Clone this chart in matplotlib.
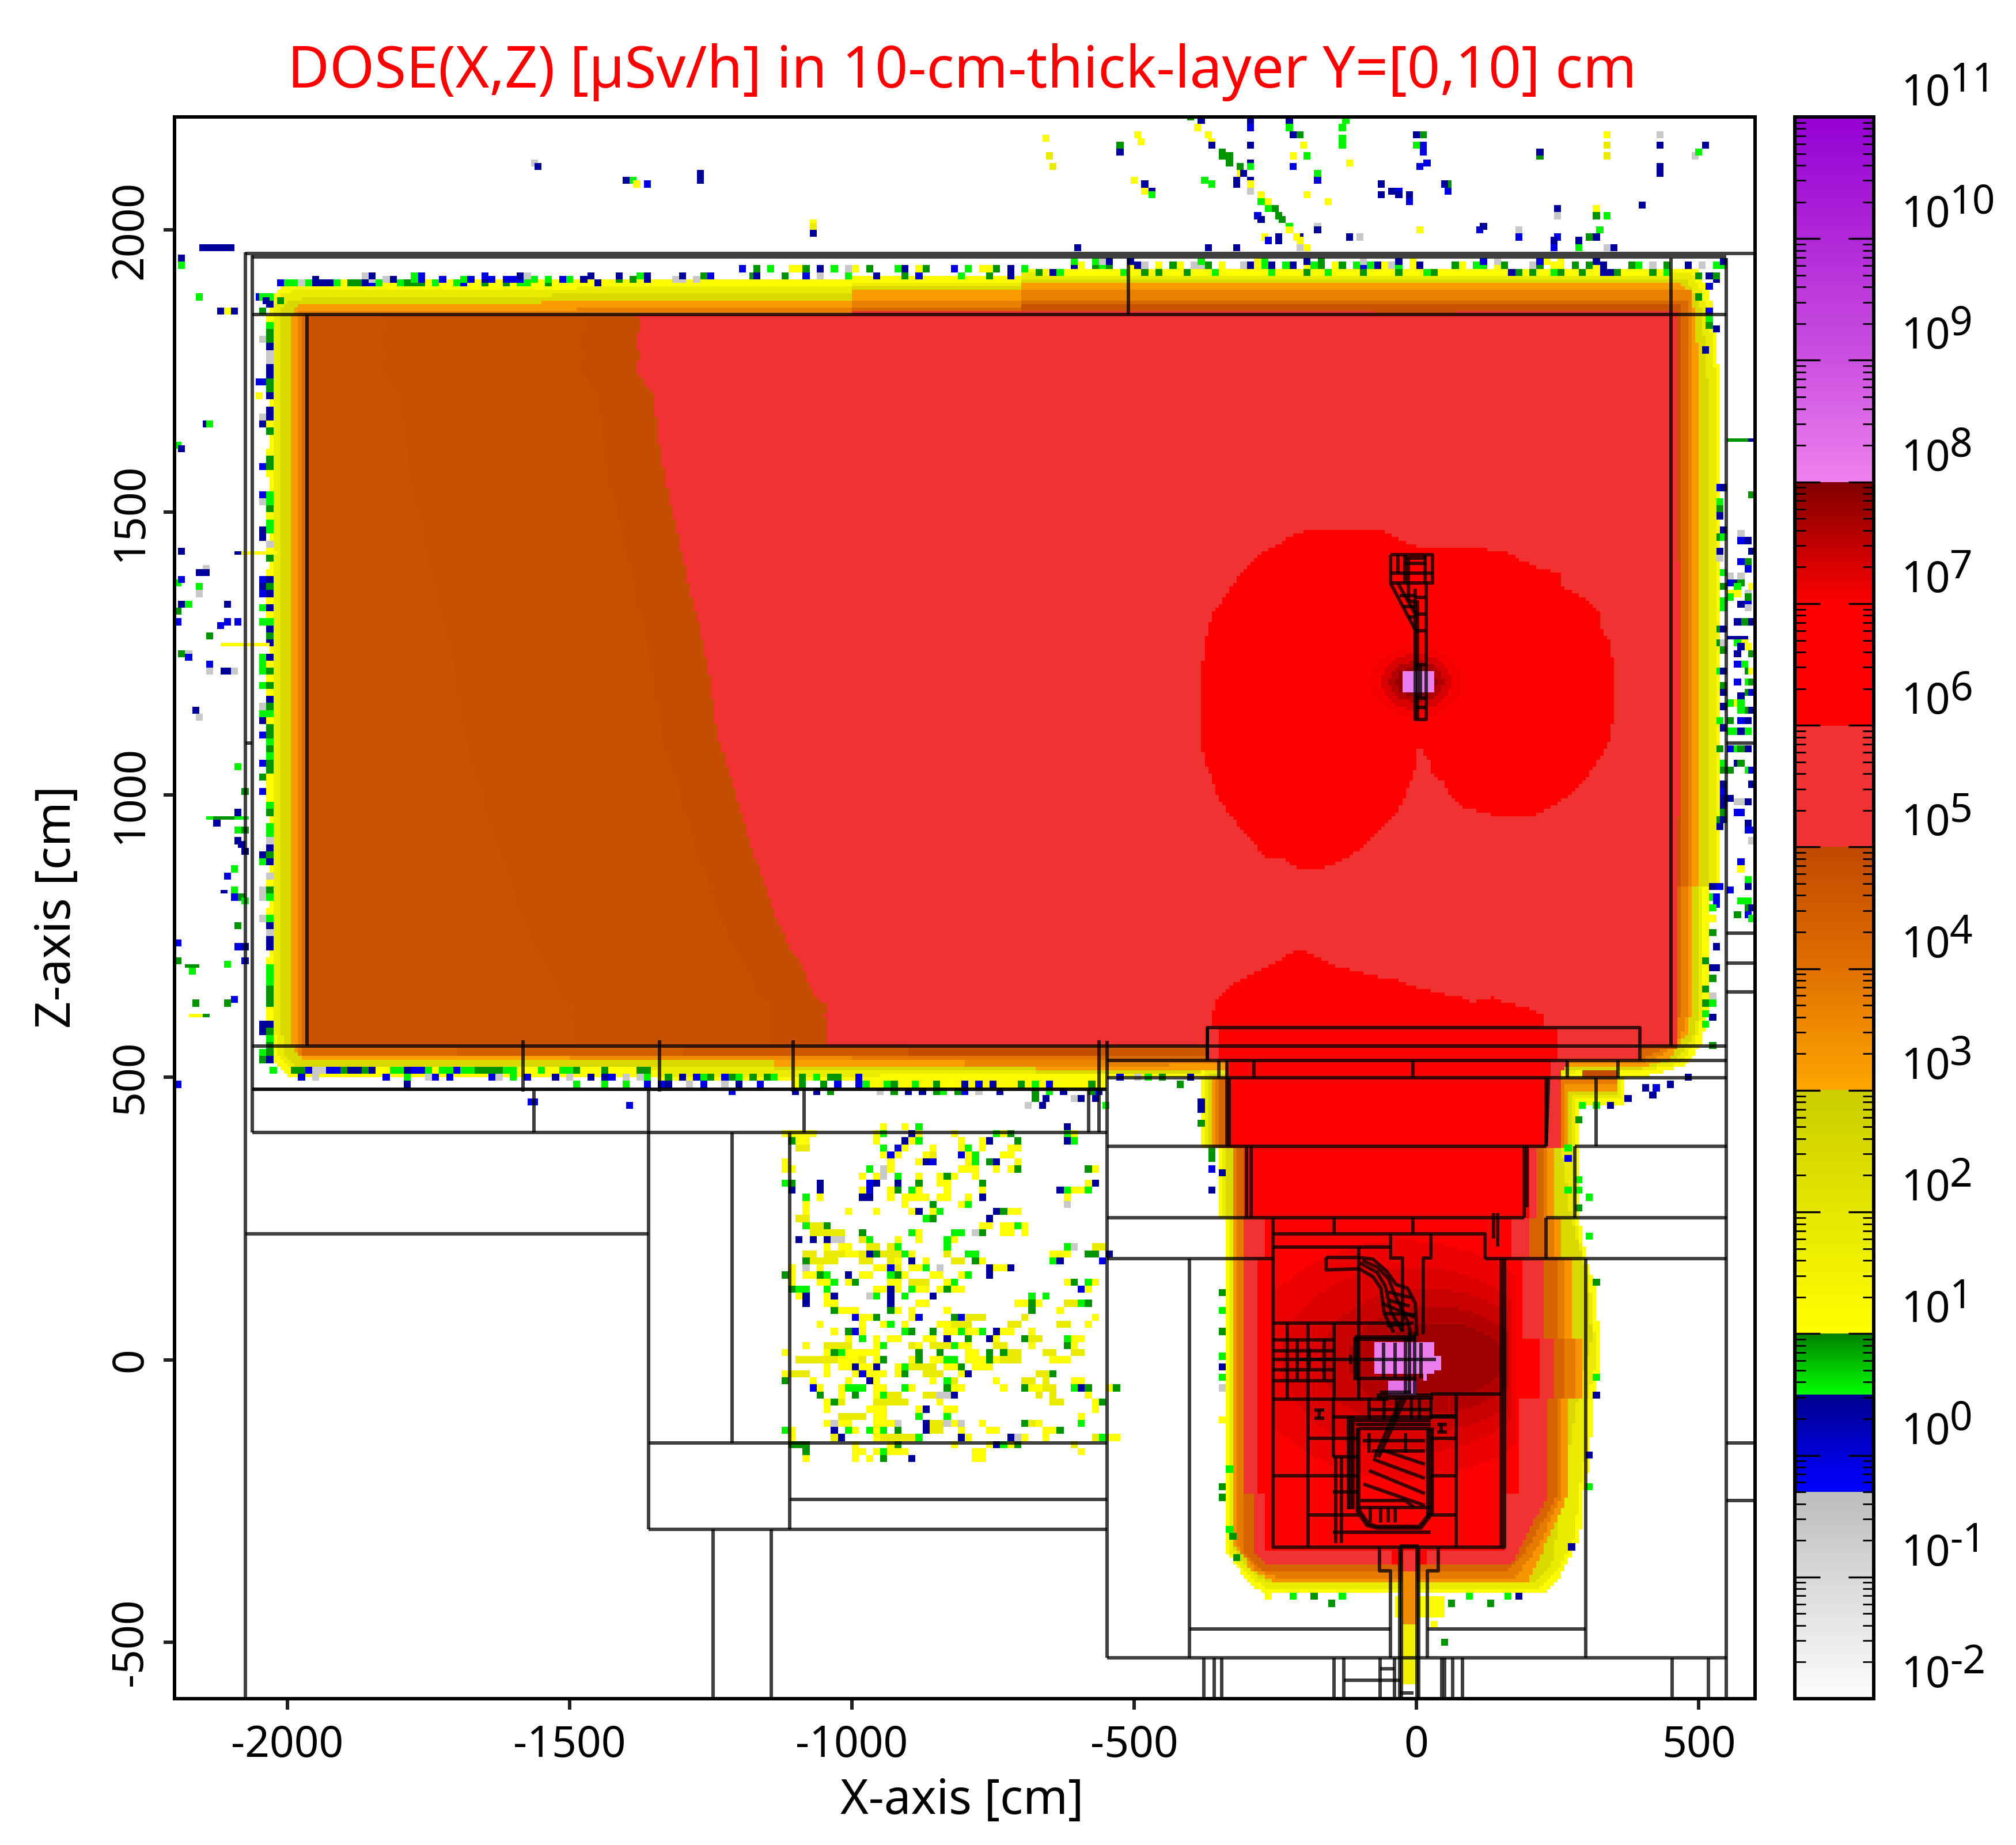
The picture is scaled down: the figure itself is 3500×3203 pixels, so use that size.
#!/usr/bin/env python
"""Dose map DOSE(X,Z) with the geometry outline, read off the picture by hand."""

import matplotlib

matplotlib.use("Agg")
import matplotlib.pyplot as plt  # noqa: E402
import numpy as np  # noqa: E402
from matplotlib.collections import LineCollection  # noqa: E402
from matplotlib.colors import LinearSegmentedColormap, LogNorm  # noqa: E402
from matplotlib.path import Path  # noqa: E402
from matplotlib.ticker import LogLocator, NullFormatter  # noqa: E402

plt.rcParams["font.family"] = ["Noto Sans", "DejaVu Sans"]
plt.rcParams["axes.unicode_minus"] = False

CELL = 6.25
XLIM = (-2200, 600)
ZLIM = (-600, 2200)
X_TICKS = [-2000, -1500, -1000, -500, 0, 500]
Z_TICKS = [-500, 0, 500, 1000, 1500, 2000]
DECADES = list(range(-2, 12))

# colour bar stops: log10(dose), colour
CMAP_STOPS = [
    (-2, "#fdfdfd"), (-1, "#d8d8d8"), (-0.3, "#bcbcbc"),
    (-0.3, "#0000ff"), (0, "#0000d8"), (0.5, "#00008c"),
    (0.5, "#00ff00"), (1, "#008000"),
    (1, "#ffff00"), (2, "#e6e600"), (3, "#cccc00"),
    (3, "#ffa500"), (4, "#e07000"), (5, "#c04800"),
    (5, "#f03232"), (6, "#f03232"),
    (6, "#ff0000"), (7, "#ff0000"), (8, "#800000"),
    (8, "#ee82ee"), (9, "#cc50e0"), (10, "#b028d8"), (11, "#9400d3"),
]

# log10(dose) of the speckle letters used below
CODES = {"y": 1.05, "e": 1.8, "d": 2.5, "g": 0.55, "G": 0.92, "b": -0.1, "n": 0.4, "w": -0.6}

# --- dose zones, outer to inner (X, Z in cm) ---
ROOM_Y = [(-2032, 600), (-2032, 1875), (-2015, 1895), (-2000, 1904), (-1490, 1904), (-1490, 1910), (-1000, 1910),
          (-1000, 1919), (-700, 1919), (-700, 1929), (500, 1929), (521, 1880), (530, 1820), (539, 1700), (539, 838),
          (519, 838), (519, 620), (505, 560), (476, 520), (400, 500), (-548, 499), (-548, 482), (-979, 482), (-979, 495),
          (-1344, 495), (-1344, 503), (-2000, 503), (-2025, 530)]
ROOM_E = [(-2026, 600), (-2026, 1865), (-2010, 1885), (-1995, 1891), (-1490, 1891), (-1490, 1897), (-1000, 1897),
          (-1000, 1909), (-700, 1909), (-700, 1922), (490, 1922), (512, 1870), (522, 1820), (533, 1700), (533, 838),
          (508, 838), (508, 620), (495, 565), (468, 525), (400, 510), (-548, 505), (-979, 503), (-1344, 503), (-1344, 514),
          (-1990, 514), (-2015, 535)]
ROOM_D = [(-2013, 600), (-2013, 1855), (-2000, 1872), (-1985, 1878), (-1490, 1885), (-1000, 1885), (-1000, 1897),
          (-700, 1897), (-700, 1910), (480, 1910), (505, 1860), (519, 1700), (519, 838), (501, 838), (501, 620), (490, 570),
          (460, 530), (400, 515), (-548, 505), (-673, 505), (-673, 514), (-1140, 514), (-1140, 521), (-1985, 521), (-2005, 540)]
ROOM_O = [(-1995, 600), (-1995, 1845), (-1985, 1862), (-1975, 1871), (-1552, 1871), (-1552, 1878), (-1000, 1878),
          (-1000, 1891), (-700, 1891), (-700, 1904), (470, 1904), (495, 1850), (501, 1700), (501, 838), (488, 838), (488, 620),
          (478, 575), (450, 535), (400, 518), (-673, 514), (-673, 521), (-1140, 521), (-1140, 533), (-1975, 533), (-1990, 550)]
ROOM_M = [(-1981, 600), (-1981, 1859), (-1490, 1859), (-1490, 1865), (-1000, 1865), (-1000, 1878), (-700, 1878),
          (-700, 1891), (488, 1891), (488, 838), (481, 838), (481, 620), (470, 575), (440, 540), (400, 525), (-673, 521),
          (-673, 527), (-1140, 527), (-1140, 536), (-1981, 536)]
ROOM_B = [(-1975, 545), (-1975, 1853), (-1000, 1853), (-1000, 1865), (-700, 1865), (-700, 1878), (481, 1878), (481, 838),
          (469, 838), (469, 620), (460, 580), (430, 545), (400, 533), (-1000, 533), (-1975, 539)]
ROOM_C = [(-1968, 552), (-1968, 1853), (-1000, 1853), (-1000, 1859), (-700, 1859), (-700, 1871), (469, 1871), (469, 838),
          (463, 838), (463, 552)]
ROOM_LEVELS = [1.1, 1.8, 2.5, 3.2, 3.7, 4.2, 4.76]

# the 1e5 contour through the room, top to bottom
CONTOUR_1E5 = [(-1382, 1853), (-1375, 1835), (-1382, 1800), (-1375, 1780), (-1382, 1755), (-1375, 1740), (-1362, 1720),
               (-1349, 1705), (-1346, 1655), (-1328, 1542), (-1307, 1451), (-1292, 1383), (-1269, 1292), (-1251, 1201),
               (-1239, 1110), (-1212, 1019), (-1178, 905), (-1144, 814), (-1133, 776), (-1120, 755), (-1113, 731),
               (-1100, 718), (-1094, 711), (-1081, 680), (-1075, 660), (-1062, 641), (-1048, 630), (-1043, 623),
               (-1048, 609), (-1043, 591), (-1043, 555)]
ROOM_F_RIGHT = [(463, 555), (463, 961), (469, 961), (469, 1413), (463, 1413), (463, 1859), (-1000, 1859), (-1000, 1853)]
STRIP_SHIFTS = [450, 250, 100]
STRIP_LEVELS = [4.79, 4.83, 4.88]
STRIP_LEFT = -1960
# x0, x1, z0, z1, log10(dose)
ROOM_PATCHES = [
    (-73, 66, 1853, 1859, 4.9),
    (-1975, -1700, 539, 555, 4.2), (-1700, -1300, 539, 555, 4.4), (-1300, -900, 539, 555, 4.6),
    (-900, -560, 539, 555, 4.9), (-560, -370, 539, 555, 4.7),
    (-1975, -1500, 533, 539, 3.1), (-1500, -1000, 533, 539, 3.5), (-1000, -560, 533, 539, 3.9),
    (-1140, -800, 521, 533, 3.15), (-800, -560, 521, 533, 3.6),
]

LOBES_1E6 = [(-2, 1080), (-2, 1050), (-9, 1024), (-21, 999), (-28, 979), (-40, 960), (-60, 942), (-78, 922), (-99, 903),
             (-131, 885), (-162, 871), (-213, 871), (-234, 885), (-270, 890), (-283, 910), (-303, 928), (-321, 954),
             (-340, 979), (-354, 999), (-360, 1024), (-373, 1050), (-379, 1081), (-379, 1234), (-373, 1278), (-360, 1324),
             (-340, 1349), (-327, 1368), (-309, 1394), (-289, 1413), (-270, 1432), (-232, 1451), (-213, 1464), (-181, 1469),
             (-60, 1469), (-28, 1451), (10, 1438), (80, 1438), (157, 1432), (188, 1413), (221, 1400), (253, 1393), (259, 1368),
             (297, 1349), (323, 1324), (329, 1292), (342, 1272), (348, 1240), (348, 1133), (342, 1094), (329, 1069), (310, 1044),
             (297, 1024), (271, 999), (240, 979), (202, 961), (151, 961), (99, 974), (80, 979), (61, 999), (49, 1024), (29, 1030),
             (23, 1062), (10, 1069), (10, 1081)]

BUNKER_Y = [(-379, 510), (-379, 378), (-353, 378), (-353, 251), (-340, 251), (-340, -332), (-322, -361), (-300, -395),
            (-270, -412), (226, -412), (257, -382), (289, -315), (296, -239), (308, -171), (312, -70), (328, -2), (316, 133),
            (300, 179), (289, 251), (289, 450), (367, 450), (367, 500)]
BUNKER_E = [(-372, 510), (-372, 378), (-346, 378), (-346, 251), (-334, 251), (-334, -332), (-316, -360), (-295, -385),
            (-265, -404), (218, -404), (250, -375), (280, -315), (288, -239), (298, -171), (302, -70), (320, -2), (308, 133),
            (296, 179), (281, 251), (281, 460), (360, 460), (360, 500)]
BUNKER_D = [(-366, 505), (-366, 378), (-340, 378), (-340, 251), (-328, 251), (-328, -332), (-310, -355), (-290, -378),
            (-260, -396), (211, -396), (242, -357), (257, -239), (285, -70), (312, 40), (296, 179), (273, 251), (257, 378),
            (277, 378), (277, 470), (359, 471), (359, 499)]
BUNKER_O = [(-360, 499), (-360, 378), (-328, 378), (-328, 251), (-322, 251), (-322, -332), (-309, -340), (-295, -370),
            (-255, -391), (199, -391), (226, -332), (269, -239), (269, -70), (293, -70), (293, 40), (277, 40), (277, 179),
            (257, 179), (257, 251), (242, 251), (242, 378), (269, 378), (269, 475), (359, 475), (359, 499)]
BUNKER_M = [(-356, 499), (-356, 378), (-324, 378), (-324, 251), (-316, 251), (-316, -332), (-307, -345), (-285, -372),
            (-250, -385), (175, -385), (215, -332), (258, -239), (258, -70), (280, -70), (280, 40), (262, 40), (262, 179),
            (245, 179), (245, 251), (232, 251), (232, 378), (263, 378), (263, 490), (357, 490), (357, 499)]
BUNKER_B = [(-352, 499), (-352, 378), (-320, 378), (-320, 251), (-309, 251), (-309, -332), (-300, -350), (-270, -378),
            (156, -378), (199, -332), (250, -239), (250, -70), (265, -70), (265, 40), (250, 40), (250, 179), (234, 179),
            (234, 251), (222, 251), (222, 378), (257, 378), (257, 499)]
BUNKER_F = [(-340, 499), (-340, 378), (-305, 378), (-305, -239), (-289, -239), (-289, -340), (-270, -361), (168, -361),
            (183, -332), (234, -239), (234, -70), (242, -70), (242, 40), (222, 40), (222, 179), (203, 179), (203, 251),
            (211, 251), (211, 378), (254, 378), (254, 499), (270, 530), (396, 530), (396, 555), (-370, 555), (-370, 530),
            (-340, 530)]
BUNKER_R = [(-360, 589), (-360, 619), (-353, 640), (-336, 657), (-323, 666), (-255, 700), (-210, 728), (-141, 696),
            (-80, 680), (-39, 674), (-8, 661), (23, 653), (82, 640), (101, 632), (136, 642), (152, 632), (199, 623), (226, 610),
            (226, 589), (251, 585), (251, 530), (238, 530), (234, 499), (234, 378), (199, 378), (199, 251), (168, 251),
            (168, 179), (187, 179), (187, 40), (218, 40), (218, -70), (183, -70), (183, -239), (156, -239), (156, -340),
            (19, -340), (19, -361), (-46, -361), (-46, -340), (-270, -340), (-270, -239), (-283, -239), (-283, 179),
            (-270, 179), (-270, 251), (-297, 251), (-297, 378), (-332, 378), (-332, 530), (-353, 530), (-353, 585)]
BUNKER_LEVELS = [1.1, 1.8, 2.5, 3.3, 3.8, 4.3, 5.5, 6.5]
BUNKER_PATCHES = [
    (293, 355, 499, 513, 4.9),
    (-39, 47, -459, -416, 1.1), (-24, 0, -467, -374, 3.5), (-24, 0, -577, -467, 1.6), (-24, 0, -374, -340, 5.5),
]

# cx, cz, rx, rz, log10(dose), smallest X, largest X: the warm spots round the two beam spots
HOT_SPOTS = [
    (-20, 0, 280, 210, 7.15, -254, 172), (-10, 0, 230, 165, 7.28, -254, 168), (20, 0, 190, 125, 7.42, -254, 164),
    (30, 0, 150, 95, 7.58, -254, 160), (40, 0, 115, 65, 7.78, -254, 155),
    (0, 1200, 85, 65, 7.05, -90, 90), (0, 1200, 62, 50, 7.3, -90, 90), (0, 1200, 48, 36, 7.6, -90, 90),
    (0, 1200, 36, 26, 7.85, -90, 90),
]
PINK_PATCHES = [
    (-73, 29, -28, 30, 8.1), (29, 42, -21, 9, 8.1), (10, 20, -40, -28, 8.1), (-50, -3, -60, -40, 8.3),
    (-22, 29, 1184, 1221, 8.1), (-27, -22, 1190, 1210, 8.1),
]

# --- scattered cells, as letter strings along a row or column ---
BOX_X0 = -1162
BOX_Z0 = 412
BOX_ROWS = [
    ".................y..y.g....................n..",
    "...yyyyy........yg...ny....y.....gyG.......gy..",
    "....Gyy.........y...nyg.....y..yn...G......ng..",
    ".....ee..........g.by...y...yg.y...yy..........",
    ".................yby...ye...byg...yy...........",
    "...y..............y...ynb....yg.Gn..y..........",
    "...yy..........g.wy.........yyy..y.yG.........Gy..",
    "..............y.yw.g..y..yGy..y.................",
    "...gG...n......bn..n..G..yy....G..............yn",
    "....n...n.....yb..yG.gy...y....y..........ngyyg.",
    "......g.y.....nn..y.yyyy.yy..y.n...........y....",
    "......y.............y...G...yg.............w....",
    "......y.....y...y....yn.yg.......nGyy...........",
    ".....ee................gG.......n...............",
    "......geeG.....................yy.yygy...........",
    ".......eeeee..G......gy....gg.wG..yy.y............",
    ".....n.n.nww..eg...y..y...gy......................",
    ".........y.yy..ee.eg......g................gw..ee.",
    "......ee.eeeyyenGeeegy....e..gg..........yyy..GG.n",
    "......Geeee...ee..ey.n.y...ee.Gy.........gn.....b.",
    "....y.w.y.......yybe.yyg.w......nyyn..............",
    "...Gy.yyGg..n.yy..gGy...yy..yg..n.................",
    "....y...yyg.yG....yy.eee..yg...............yG.gy..",
    "....Ggg..g......yyny.gyy.yGyy................by...",
    ".....yn..yn....wg.n.g...n.............g.g.........",
    "......n..yy.......n...yy............yyGy...eegG....",
    "..........Gyyy....Gy.y....y...........G...y.......",
    ".............byyG....yb....Gbeee.....e.........y..",
    "........y.....y..yg.y....yyeee.....ee.....ee..y...",
    "..........y.Gby.....gG..G.yygyyg.nyy..y...........",
    "............y.g.y.yy...yy.n..G..ny...Gee...gyy....",
    "......y..eeee...yg...ey.eeegyy...ee...y....Gy.....",
    "...y.....yGgyyyyy.....G..G...yy.G.Gee...ee..ee....",
    ".....eeeeeeyyye.yG...yG.yygg.yyyGyeee....yyy......",
    ".........y.yynyyn..ygeeee.yyG.yyy.................",
    "...yeee..y...ybyyy.yG..eee..yn.........eeG........",
    "...G...y....y..ny.......y.ge.....y...ee.e...yy....",
    ".......by..yggg.yy..gy....Gyy.....y..Gyyee..gnG..yG",
    "........G..y.G..ygee...eewwn...........e.e....y...",
    ".........yGe....eeeee....y...............ee....yG.",
    ".........y.....yyy....yn..yy...................y..",
    "...........eeee.yy....g...g..................y....",
    ".........ywyy...yyyw...neewyw..y.....Gey.....g....",
    "...gy.....n.gy.gyg.G...nee..y...yy......yyG.......",
    "....y.....en....yeeeeeg.....ny.....nwy..y......egyy",
    "....GGG......y....yG.......y....yngyG.......e......",
    "......G......yy.ygyyy.........yy.............y.....",
    "......y......y.y.G...n........yy..................",
]

LEFT_B_X = -2035
LEFT_B_Z = 1880
LEFT_B = ("gn.ygGGnwwnnGGn.nnyG..yGGy..ggGygg.wyG.ynGnynygnGn.nyGyGynGgyGGgGgGGyyyygG.ggwnGn.wyGg.ygnwnn.ygggGGGyynGgGGn")
LEFT_A_X = -2047
LEFT_A_Z = 1693
LEFT_A = "..wn.....b...bw...nn.....bnb.g.g....ggg.g..wgn.b...b.G.b........ng...ww..w..............nn..gG"

RIGHT_Z = 1540
RIGHT_A_X = 533
RIGHT_A = "b.gGn..G.nw.........G.G...g......g...G.........Gn"
RIGHT_B_X = 540
RIGHT_B = "n.....ng....g.G.gg..n.wG..n.Gn.n..n....gG.nbnnGn"

# rows along the walls: (start X, Z, letters)
WALL_ROWS = [
    (-2063, 1904, "....bggwgnnngyGGnbgyygGGGygyygbyyGyyGyggyyGyyyyyyn"),
    (-2063, 1910, ".........n.......w.wn..gb..b..gb.nb.bbb.g.g.bg.n....G.G.n...ww.w"),
    (-2063, 1917, "................wn.....gb........b....nw........n...n..gn....n..Gb.....G"),
    (-1200, 1917, "..n...G..b.w...g...n...G.b.....g...G..n.."),
    (-1200, 1925, "b.G.g..yyG.n.g.wy.G...gn.yG...b.g.yyG.n.g"),
    (-672, 1923, "GyngyyyyyyyygyyGyGyyyGyyygyyyyyyygyyyyGyygyyyyGyyyyGyyygGyyyyyyyyyynGyGyygGyyGyynnGyyyyGyg"),
    (-672, 1935, ".....ny.GgG..ynw.y.Gy.wwG.y..wnygn.gn.ygG.yG.gbgnywg.yn....Gy.gg.yG...wG.yy.G.Gyn...Gg.w.G..n.w.ng"),
    (-672, 1942, ".....g..gwn..n.........g.......yg.....n.G.....w....n.y.........b.w.....by.y....n.................n"),
    (-2031, 508, "g..GGbwwbbGnnGnyyggnbbgyggbggGGGGggyyygyyggGyyyGyyyyGG"),
    (-2031, 495, "....b.w.........b..g..wb.b.....bw.g.b...n.w..n.nb.w.wg..G.n.bgG.bGg.G.Gg...G.g.GG..b"),
    (-2031, 484, "...................n.......................g...g..g..b.bn..w.b..w.n..b....yG..G.b..bg..gG..g..G.y.n.b.n...G.g.b.....G"),
    (-2031, 472, ".................................................................b........n..n.G......w.G.n.n.Gg.Gb.w..n....G.g.n...Gb"),
]

# runs only half a cell high: (X, Z, letters), along X
THIN_RUNS = [
    (552, 1627, "GGGn"), (-2089, 1425, "nyyyyy"), (-2115, 1266, "yyyyyyy"), (553, 1275, "nnn"), (-2142, 958, "gGGGgg"),
    (-2175, 607, "yyG"), (-2181, 696, "GG"), (-2118, 827, "n"),
]

# single cells: (X, Z, letter)
LOOSE_CELLS = [
    # above the top wall, left
    (-1563, 2117, "w"), (-1557, 2108, "n"), (-1389, 2086, "g"), (-1401, 2086, "n"), (-1384, 2075, "y"), (-1368, 2075, "b"),
    (-1275, 2094, "n"), (-1269, 2086, "n"), (-1069, 2010, "y"), (-1069, 2000, "e"), (-1069, 1990, "n"),
    (-2155, 1968, "n"), (-2143, 1968, "n"), (-2130, 1968, "n"), (-2118, 1968, "n"), (-2106, 1968, "n"),
    (-2160, 1875, "g"), (-2109, 1856, "y"), (-2120, 1856, "n"), (-2098, 1856, "n"), (-2189, 1934, "g"), (-2189, 1944, "n"),
    # above the top wall, right
    (-389, 2179, "y"), (-385, 2188, "n"), (-405, 2195, "G"), (-297, 2193, "n"), (-295, 2179, "b"), (-229, 2188, "n"),
    (-227, 2177, "g"), (-136, 2176, "g"), (-136, 2160, "g"), (-136, 2147, "g"), (-127, 2193, "g"), (-657, 2159, "y"),
    (-651, 2127, "e"), (-647, 2111, "e"), (-497, 2166, "y"), (-490, 2155, "y"), (-527, 2147, "G"), (-527, 2137, "n"),
    (-374, 2166, "y"), (-367, 2155, "y"), (-366, 2147, "n"), (-348, 2137, "G"), (-346, 2127, "G"), (-334, 2127, "G"),
    (-334, 2118, "G"), (-315, 2108, "G"), (-296, 2147, "n"), (-296, 2118, "n"), (-295, 2108, "g"), (-315, 2095, "y"),
    (-307, 2095, "n"), (-225, 2166, "n"), (-209, 2166, "G"), (-206, 2147, "y"), (-195, 2130, "g"), (-225, 2125, "y"),
    (-225, 2108, "b"), (-5, 2166, "n"), (7, 2166, "G"), (-5, 2147, "g"), (7, 2147, "b"), (9, 2137, "b"), (214, 2125, "G"),
    (214, 2137, "n"), (337, 2166, "y"), (337, 2147, "e"), (337, 2127, "e"), (427, 2147, "n"), (427, 2166, "w"),
    (425, 2108, "n"), (425, 2095, "n"), (509, 2147, "n"), (492, 2127, "w"), (497, 2137, "g"), (0, 2108, "b"), (15, 2118, "b"),
    (-176, 2095, "g"), (-176, 2086, "b"), (-123, 2118, "y"), (-487, 2075, "n"), (-475, 2067, "n"), (-487, 2067, "y"),
    (-475, 2057, "g"), (-505, 2086, "y"), (-367, 2075, "g"), (-376, 2086, "g"), (-325, 2075, "n"), (-319, 2086, "n"),
    (-296, 2086, "n"), (-296, 2075, "y"), (-294, 2066, "w"), (-277, 2057, "y"), (-277, 2047, "g"), (-264, 2047, "y"),
    (-264, 2037, "g"), (-255, 2037, "G"), (-247, 2024, "G"), (-239, 2015, "G"), (-229, 2006, "g"), (-282, 2024, "b"),
    (-277, 2015, "n"), (-194, 2060, "y"), (-157, 2047, "y"), (-67, 2075, "n"), (-67, 2057, "n"), (-49, 2067, "n"),
    (-36, 2067, "b"), (-32, 2057, "n"), (-16, 2057, "n"), (-16, 2047, "b"), (56, 2075, "G"), (56, 2067, "b"), (45, 2075, "n"),
    (246, 2037, "n"), (246, 2024, "w"), (316, 2037, "y"), (316, 2024, "G"), (337, 2024, "g"), (396, 2041, "n"),
    (-227, 1996, "y"), (-207, 1987, "n"), (-218, 1987, "y"), (-207, 1977, "y"), (-195, 1968, "y"), (-207, 1968, "w"),
    (-176, 2006, "w"), (-176, 1996, "n"), (-124, 1987, "n"), (-106, 1987, "w"), (-270, 1987, "y"), (-250, 1987, "n"),
    (-264, 1977, "b"), (-246, 1977, "n"), (5, 1996, "y"), (107, 1996, "b"), (115, 2006, "n"), (177, 1987, "b"), (177, 1996, "w"),
    (246, 1987, "b"), (238, 1977, "n"), (242, 1967, "b"), (304, 1987, "G"), (316, 1987, "n"), (321, 1997, "g"), (283, 1967, "g"),
    (286, 1977, "n"), (337, 1967, "w"), (345, 1967, "n"), (-369, 1967, "n"), (-325, 1967, "n"), (-606, 1967, "n"),
    # outside the left wall
    (-2147, 1656, "n"), (-2138, 1656, "g"), (-2194, 1617, "g"), (-2189, 1607, "n"), (-2189, 1425, "n"),
    (-2159, 1389, "n"), (-2147, 1398, "w"),
    (-2147, 1388, "n"), (-2194, 1373, "g"), (-2189, 1376, "b"), (-2160, 1365, "g"), (-2160, 1354, "w"), (-2189, 1337, "n"),
    (-2179, 1337, "g"), (-2109, 1337, "n"), (-2194, 1319, "G"), (-2194, 1305, "b"), (-2108, 1305, "b"), (-2091, 1305, "b"),
    (-2125, 1295, "b"), (-2138, 1276, "G"), (-2189, 1247, "G"), (-2179, 1247, "w"), (-2179, 1238, "b"), (-2138, 1227, "b"),
    (-2118, 1216, "n"), (-2105, 1216, "n"), (-2138, 1216, "w"), (-2099, 1216, "w"), (-2163, 1145, "n"), (-2159, 1135, "w"),
    (-2091, 1046, "g"), (-2081, 1005, "G"), (-2089, 968, "n"), (-2130, 948, "n"),
    (-2089, 936, "g"), (-2076, 936, "G"), (-2092, 917, "n"), (-2087, 907, "n"), (-2077, 897, "n"), (-2099, 865, "g"),
    (-2108, 856, "b"), (-2099, 827, "g"), (-2099, 818, "b"), (-2087, 818, "G"), (-2077, 808, "g"), (-2089, 766, "G"),
    (-2194, 737, "b"), (-2089, 726, "b"), (-2077, 726, "n"), (-2081, 706, "b"), (-2194, 706, "G"),
    (-2169, 687, "g"), (-2108, 696, "g"), (-2099, 636, "b"), (-2108, 627, "G"), (-2166, 627, "G"), (-2194, 486, "b"),
    # inside the left wall, near the top
    (-2055, 1880, "b"), (-2046, 1880, "g"), (-2055, 1725, "b"), (-2046, 1725, "b"), (-2055, 1705, "y"), (-2046, 1805, "w"),
    (-2016, 1871, "G"), (-2040, 1871, "n"), (-2045, 1853, "G"),
    # outside the right wall
    (592, 1527, "G"),
    (574, 1457, "w"), (574, 1444, "b"), (584, 1444, "n"), (590, 1426, "n"), (574, 1407, "b"), (584, 1407, "G"), (584, 1397, "b"),
    (555, 1387, "w"), (574, 1387, "w"), (555, 1374, "b"), (565, 1374, "n"), (574, 1374, "G"), (565, 1365, "g"), (590, 1365, "y"),
    (565, 1356, "y"), (555, 1356, "y"), (584, 1356, "w"), (555, 1346, "g"), (584, 1346, "G"), (574, 1337, "n"), (584, 1337, "b"),
    (584, 1327, "w"), (565, 1305, "n"), (581, 1305, "G"), (592, 1305, "n"), (565, 1267, "g"), (581, 1267, "y"),
    (574, 1257, "n"), (584, 1257, "y"), (565, 1244, "n"), (592, 1244, "G"),
    (565, 1229, "b"), (581, 1229, "g"), (584, 1215, "G"), (592, 1215, "y"), (568, 1197, "b"), (584, 1197, "g"), (592, 1197, "G"),
    (574, 1173, "n"), (584, 1177, "G"), (592, 1177, "b"), (555, 1158, "g"), (565, 1158, "y"), (574, 1158, "g"), (574, 1145, "g"),
    (584, 1145, "G"), (592, 1145, "n"), (555, 1126, "G"), (574, 1126, "b"), (584, 1126, "n"), (555, 1108, "g"), (565, 1108, "g"),
    (574, 1108, "n"), (584, 1108, "g"), (565, 1075, "g"), (555, 1075, "b"), (584, 1075, "n"), (574, 1075, "G"), (565, 1056, "n"),
    (574, 1056, "G"), (584, 1038, "g"), (555, 1038, "G"), (592, 1038, "b"), (592, 1018, "n"), (555, 989, "n"), (565, 987, "w"),
    (574, 987, "w"), (584, 986, "n"), (565, 968, "b"), (574, 968, "b"), (584, 947, "n"), (584, 935, "b"), (592, 934, "b"),
    (592, 916, "w"), (574, 877, "b"), (574, 865, "y"), (584, 846, "g"), (584, 835, "n"), (555, 826, "b"), (574, 807, "g"),
    (584, 807, "g"), (584, 794, "G"), (592, 794, "n"), (565, 784, "G"), (584, 784, "b"), (592, 776, "g"),
    # round the top right corner
    (509, 1786, "n"), (528, 1819, "n"), (513, 1829, "G"), (515, 1843, "g"), (515, 1856, "b"), (497, 1877, "G"), (515, 1894, "b"),
    (529, 1907, "n"), (495, 1916, "G"), (515, 1916, "n"), (529, 1916, "G"), (528, 1935, "g"),
    # lower right of the room
    (519, 835, "n"), (525, 835, "n"), (533, 835, "b"), (519, 815, "g"), (530, 815, "b"), (530, 800, "b"), (519, 795, "g"),
    (519, 775, "y"), (519, 750, "G"), (525, 725, "n"), (508, 706, "G"), (519, 690, "n"), (530, 690, "n"), (519, 670, "G"),
    (508, 650, "G"), (519, 640, "w"), (508, 630, "G"), (519, 625, "g"), (508, 610, "g"), (519, 600, "n"), (508, 590, "g"),
    # bottom of the room, below the wall line
    (-1575, 455, "b"), (-1563, 455, "b"), (-680, 460, "G"), (-661, 460, "n"), (-612, 460, "w"), (-596, 460, "n"), (-570, 460, "n"),
    (-1397, 445, "b"), (-689, 445, "w"), (-668, 445, "n"), (-554, 445, "g"),
    # round the bunker
    (-367, 365, "G"), (-367, 352, "G"), (-367, 336, "b"), (-348, 328, "n"), (-367, 298, "n"), (-385, 456, "n"), (-385, 440, "n"),
    (-385, 416, "G"), (-348, 116, "G"), (-348, 86, "g"), (-348, 44, "G"), (-348, 0, "g"), (-348, -15, "n"), (-348, -34, "g"),
    (-348, -53, "w"), (-348, -108, "y"), (-336, -195, "g"), (-348, -226, "G"), (-348, -247, "G"), (-336, -306, "g"), (-326, -315, "G"),
    (-324, -353, "G"), (-266, -423, "y"), (-219, -423, "g"), (-185, -423, "G"), (-137, -423, "g"), (-156, -433, "G"), (62, -433, "G"),
    (93, -423, "g"), (125, -433, "G"), (162, -423, "g"), (175, -423, "n"), (285, 420, "G"), (265, 370, "g"), (265, 353, "b"),
    (285, 316, "g"), (265, 298, "g"), (285, 298, "g"), (303, 285, "g"), (285, 266, "G"), (303, 215, "g"), (316, 137, "G"),
    (316, -34, "g"), (316, -64, "n"), (303, -175, "n"), (303, -226, "g"), (273, -333, "n"), (400, 475, "n"), (371, 458, "n"),
    (414, 463, "n"), (423, 475, "b"), (290, 448, "g"), (313, 448, "g"), (343, 448, "n"), (-531, 495, "b"), (-496, 495, "w"),
    (-476, 495, "g"), (-455, 495, "G"), (-405, 495, "n"), (-422, 486, "G"), (476, 495, "n"), (445, 486, "n"), (524, 555, "G"),
    (45, -505, "G"), (30, -470, "y"),
]

# --- geometry outline, polylines in cm ---
WALLS = [
    [(-2075, 1958), (600, 1958)], [(-2062, 1952), (549, 1952)], [(-2075, 1960), (-2075, -600)], [(-2062, 1955), (-2062, 402)],
    [(-2062, 1850), (549, 1850)], [(-2062, 555), (549, 555)], [(549, 1950), (549, -600)], [(-1965, 1850), (-1965, 555)],
    [(451, 1950), (451, 555)], [(-510, 1950), (-510, 1850)], [(-1583, 565), (-1583, 475)], [(-1341, 565), (-1341, 475)],
    [(-1104, 565), (-1104, 475)], [(-562, 565), (-562, 402)], [(-2062, 479), (-549, 479)], [(-2062, 479), (-549, 479)],
    [(-2062, 402), (-548, 402)], [(-1563, 479), (-1563, 402)], [(-1360, 479), (-1360, -300)], [(-1085, 479), (-1085, 402)],
    [(-581, 479), (-581, 402)], [(-1212, 402), (-1212, -147)], [(-1110, 402), (-1110, -300)], [(-2075, 223), (-1360, 223)],
    [(-1360, -147), (-548, -147)], [(-1110, -247), (-548, -247)], [(-1360, -300), (-548, -300)], [(-1246, -300), (-1246, -600)],
    [(-1143, -300), (-1143, -600)], [(549, 1092), (600, 1092)], [(-2075, 1092), (-2062, 1092)], [(549, 755), (600, 755)],
    [(549, 702), (600, 702)], [(549, 651), (600, 651)], [(549, -147), (600, -147)], [(549, -249), (600, -249)],
]
BUNKER_WALLS = [
    [(-370, 530), (-370, 588), (396, 588), (396, 530)], [(-548, 530), (550, 530)], [(-548, 499), (550, 499)],
    [(-548, 564), (-548, -528)], [(-350, 530), (-350, 499)], [(-336, 530), (-336, 378)], [(-332, 499), (-332, 378)],
    [(-288, 530), (-288, 499)], [(-6, 530), (-6, 499)], [(267, 530), (267, 499)], [(357, 530), (357, 499)], [(234, 499), (230, 378)],
    [(230, 499), (230, 378)], [(318, 499), (318, 378)], [(-548, 378), (230, 378)], [(281, 378), (550, 378)], [(-301, 378), (-301, 251)],
    [(-293, 378), (-293, 251)], [(191, 378), (191, 251)], [(196, 378), (196, 270)], [(281, 378), (281, 251)], [(-548, 251), (191, 251)],
    [(230, 251), (550, 251)], [(230, 251), (230, 179)], [(-548, 179), (-254, 179)], [(121, 179), (550, 179)], [(-402, 179), (-402, -528)],
    [(300, 179), (300, -528)], [(-402, -477), (-46, -477)], [(19, -477), (300, -477)], [(-548, -528), (550, -528)],
    [(-377, -528), (-377, -600)], [(-358, -528), (-358, -600)], [(-345, -528), (-345, -600)], [(-146, -528), (-146, -600)],
    [(-129, -528), (-129, -600)], [(-64, -528), (-64, -600)], [(-39, -528), (-39, -600)], [(45, -528), (45, -600)], [(50, -528), (50, -600)],
    [(64, -528), (64, -600)], [(82, -528), (82, -600)], [(453, -528), (453, -600)], [(517, -528), (517, -600)],
    [(-129, -567), (-30, -567)], [(-64, -547), (-39, -547)], [(-370, 530), (-370, 588)],
]
BOX_LINES = [
    [(-254, 251), (-254, -332), (156, -332), (156, 179)], [(150, 179), (150, -332)], [(-254, 223), (121, 223), (121, 179)],
    [(-146, 251), (-146, 223)], [(-6, 251), (-6, 223)], [(144, 260), (144, 200)], [(137, 260), (137, 215)], [(-254, 199), (-46, 199)],
    [(-46, 223), (-46, 180), (-24, 180), (-24, 50)], [(25, 223), (25, 180), (12, 180), (12, 45)], [(-102, 199), (-102, -70)],
    [(-254, 65), (-24, 65)], [(-229, 65), (-229, -70)], [(-192, 65), (-192, -332)], [(-146, 65), (-146, -70)], [(-254, -70), (-50, -70)],
    [(25, -61), (150, -61)], [(70, -61), (70, -332)], [(-192, -139), (-102, -139)], [(25, -139), (70, -139)], [(-254, -205), (-102, -205)],
    [(25, -205), (70, -205)], [(-192, -275), (-102, -275)], [(25, -275), (70, -275)], [(25, -99), (70, -99)],
    [(-254, 35), (-146, 35)], [(-254, 16), (-146, 16)], [(-254, 1), (-146, 1)], [(-254, -18), (-146, -18)], [(-254, -37), (-146, -37)],
    [(-211, 36), (-211, -36)], [(-163, 36), (-163, -36)], [(-190, 20), (-190, -15)],
    [(-181, -89), (-163, -89)], [(-181, -103), (-163, -103)], [(-172, -89), (-172, -103)],
    [(37, -115), (54, -115)], [(37, -128), (54, -128)], [(44, -115), (44, -128)],
    [(-147, -67), (-147, -172)], [(-148, -172), (-104, -172)], [(-143, -172), (-143, -325)], [(-133, -172), (-133, -325)],
    [(-148, -234), (-104, -234)], [(-148, -305), (25, -305)], [(-148, -101), (69, -101)],
    [(-84, -67), (-84, -105)], [(-57, -67), (-57, -105)], [(-36, -67), (-36, -105)], [(-9, -67), (-9, -105)], [(5, -67), (5, -105)],
    [(25, -67), (25, -105)], [(-84, -88), (25, -88)], [(-70, -63), (30, -63)], [(-70, -68), (30, -68)], [(-65, -58), (-10, -58)],
]
TARGET_LINES = [
    [(-109, 40), (-2, 40)], [(-109, 36), (-2, 36)], [(-109, 40), (-109, -33), (-2, -33)], [(-105, 40), (-105, -33)], [(-116, 9), (-116, -8)],
    [(-58, 30), (-58, -33)], [(-38, 30), (-38, -33)], [(-19, 40), (-19, -60)], [(8, 30), (8, -33)], [(-213, 1), (35, 1)],
    [(-12, 50), (-12, -60)], [(-3, 50), (-3, -60)],
    [(-160, 181), (-101, 181), (-77, 178), (-53, 157), (-36, 133), (-16, 127), (-2, 100), (1, 42)],
    [(-160, 181), (-160, 159), (-101, 161), (-77, 147), (-63, 127), (-57, 82), (-40, 48)],
    [(-96, 176), (-70, 164), (-50, 144), (-36, 110), (-16, 69), (-9, 42)], [(-57, 82), (-2, 80)], [(-50, 120), (-10, 110)],
    [(-100, 171), (-70, 155), (-55, 130), (-45, 85), (-25, 50)], [(-48, 105), (-12, 95)], [(-53, 60), (-5, 65)], [(-61, 100), (-3, 75)],
]
VESSEL_LINES = [
    [(-102, -122), (-102, -265), (-85, -290), (-70, -295), (5, -295), (25, -270), (25, -122)], [(20, -122), (20, -280)],
    [(-102, -122), (25, -122)], [(-108, -115), (25, -115)], [(-110, -108), (25, -108)], [(-120, -100), (-120, -265)], [(-112, -100), (-112, -265)],
    [(-116, -100), (-116, -265)], [(-77, -176), (15, -210)], [(-84, -196), (15, -237)], [(-94, -220), (15, -258)], [(-60, -160), (15, -185)],
    [(-80, -162), (15, -162)], [(-99, -249), (-19, -249)], [(-102, -261), (25, -261)], [(-82, -261), (-82, -288)], [(-63, -261), (-63, -288)],
    [(-50, -261), (-50, -288)], [(-38, -261), (-38, -288)], [(-19, -67), (-67, -173)], [(-26, -67), (-74, -173)], [(-84, -130), (-84, -165)],
    [(-19, -130), (-19, -165)], [(-4, -261), (-19, -250)], [(-95, -143), (15, -143)],
    [(-105, -120), (-105, -268), (-88, -293), (-70, -298), (8, -298), (28, -272), (28, -120)],
]
SNOUT_LINES = [
    [(-65, -332), (-65, -374), (-46, -374), (-46, -528)], [(39, -332), (39, -374), (19, -374), (19, -528)],
    [(-30, -332), (-30, -600)], [(-27, -332), (-27, -600)], [(4, -332), (4, -600)], [(1, -332), (1, -600)], [(-30, -330), (4, -330)],
    [(-30, -590), (-5, -590)],
]
SOURCE_LINES = [
    [(-46, 1425), (29, 1425), (29, 1375), (-46, 1375), (-46, 1425)], [(-33, 1425), (-33, 1392)], [(-20, 1425), (-20, 1375)], [(15, 1425), (15, 1375)],
    [(-46, 1392), (29, 1392)], [(-20, 1419), (17, 1419)], [(-20, 1410), (17, 1410)], [(-14, 1420), (-14, 1370)],
    [(-2, 1365), (-2, 1133), (17, 1133), (17, 1375)], [(2, 1345), (2, 1133)], [(-2, 1230), (17, 1230)], [(-2, 1171), (17, 1171)], [(7, 1230), (7, 1171)],
    [(-2, 1350), (17, 1350)], [(-2, 1320), (17, 1320)], [(-2, 1290), (17, 1290)], [(-2, 1155), (17, 1155)],
    [(-46, 1375), (-2, 1292)], [(-33, 1375), (-2, 1320)], [(-30, 1353), (-2, 1353)], [(-25, 1333), (-2, 1333)], [(-15, 1315), (-2, 1315)],
    [(-14, 1375), (-14, 1345), (-2, 1340)],
]

FRAME_LW = 4.32  # 6 px at dpi 100


def build_cmap():
    lo, hi = CMAP_STOPS[0][0], CMAP_STOPS[-1][0]
    stops = [((v - lo) / (hi - lo), c) for v, c in CMAP_STOPS]
    return LinearSegmentedColormap.from_list("dose", stops, N=2048)


def build_field():
    x_edges = np.arange(XLIM[0], XLIM[1] + CELL, CELL)
    z_edges = np.arange(ZLIM[0], ZLIM[1] + CELL, CELL)
    xc, zc = np.meshgrid(x_edges[:-1] + CELL / 2, z_edges[:-1] + CELL / 2)
    pts = np.column_stack([xc.ravel(), zc.ravel()])
    grid = np.full(xc.shape, np.nan)

    def poly(points, level):
        grid[Path(points).contains_points(pts).reshape(xc.shape)] = level

    def box(x0, x1, z0, z1, level):
        grid[(xc >= x0) & (xc <= x1) & (zc >= z0) & (zc <= z1)] = level

    def put(x, z, ch, high=2):
        i = int((x - XLIM[0]) // CELL)
        j = int((z - ZLIM[0]) // CELL)
        grid[j:j + high, i:i + 2] = CODES[ch]

    for points, level in zip([ROOM_Y, ROOM_E, ROOM_D, ROOM_O, ROOM_M, ROOM_B, ROOM_C], ROOM_LEVELS):
        poly(points, level)
    for shift, level in zip(STRIP_SHIFTS, STRIP_LEVELS):
        poly([(max(x - shift, STRIP_LEFT), z) for x, z in CONTOUR_1E5] + [(-1000, 555), (-1000, 1853)], level)
    for patch in ROOM_PATCHES[1:]:
        box(*patch)
    poly(CONTOUR_1E5 + ROOM_F_RIGHT, 5.5)
    box(*ROOM_PATCHES[0])
    poly(LOBES_1E6, 6.5)

    bunker = [BUNKER_Y, BUNKER_E, BUNKER_D, BUNKER_O, BUNKER_M, BUNKER_B, BUNKER_F, BUNKER_R]
    for points, level in zip(bunker, BUNKER_LEVELS):
        poly(points, level)
    for patch in BUNKER_PATCHES:
        box(*patch)

    for cx, cz, rx, rz, level, xmin, xmax in HOT_SPOTS:
        grid[(((xc - cx) / rx) ** 2 + ((zc - cz) / rz) ** 2 <= 1) & (xc >= xmin) & (xc <= xmax)] = level
    for patch in PINK_PATCHES:
        box(*patch)

    # speckle
    for row, text in enumerate(BOX_ROWS):
        for col, ch in enumerate(text):
            if ch != ".":
                put(BOX_X0 + col * 12.5, BOX_Z0 - row * 12.5, ch)
    for x0, z, text in WALL_ROWS:
        for col, ch in enumerate(text):
            if ch != ".":
                put(x0 + col * 12.5, z, ch)
    for x, z0, text in [(LEFT_B_X, LEFT_B_Z, LEFT_B), (LEFT_A_X, LEFT_A_Z, LEFT_A),
                        (RIGHT_A_X, RIGHT_Z, RIGHT_A), (RIGHT_B_X, RIGHT_Z, RIGHT_B)]:
        for row, ch in enumerate(text):
            if ch != ".":
                put(x, z0 - row * 12.5, ch)
    for x0, z, text in THIN_RUNS:
        for col, ch in enumerate(text):
            put(x0 + col * 12.5, z, ch, high=1)
    for x, z, ch in LOOSE_CELLS:
        put(x, z, ch)
    return x_edges, z_edges, grid


def colorbar_labels(cax):
    for exp in DECADES:
        # the exponent is set nearly as big as the "10", the original does that
        cax.annotate("10", xy=(1, 10.0 ** exp), xycoords=("axes fraction", "data"), xytext=(47, 2),
                     textcoords="offset pixels", fontsize=54, va="bottom", ha="left", annotation_clip=False)
        cax.annotate(str(exp), xy=(1, 10.0 ** exp), xycoords=("axes fraction", "data"),
                     xytext=(132, 27), textcoords="offset pixels", fontsize=50, va="bottom", ha="left",
                     annotation_clip=False)


def main():
    fig = plt.figure(figsize=(35, 32.03), dpi=100)
    ax = fig.add_axes([303 / 3500, 1 - 2949 / 3203, 2744 / 3500, 2746 / 3203])
    cax = fig.add_axes([3116 / 3500, 1 - 2949 / 3203, 137 / 3500, 2746 / 3203])

    x_edges, z_edges, grid = build_field()
    norm = LogNorm(vmin=1e-2, vmax=1e11)
    mesh = ax.pcolormesh(x_edges, z_edges, np.ma.masked_invalid(10.0 ** grid), cmap=build_cmap(), norm=norm,
                         shading="flat", antialiased=False, rasterized=True)

    groups = [WALLS, BUNKER_WALLS, BOX_LINES, TARGET_LINES, VESSEL_LINES, SNOUT_LINES, SOURCE_LINES]
    lines = [line for group in groups for line in group]
    ax.add_collection(LineCollection(lines, colors=[(0, 0, 0, 0.75)], linewidths=FRAME_LW, capstyle="butt", zorder=3))

    ax.set_xlim(*XLIM)
    ax.set_ylim(*ZLIM)
    ax.set_xticks(X_TICKS)
    ax.set_yticks(Z_TICKS)
    ax.tick_params(axis="both", length=14, width=FRAME_LW, labelsize=54, color="#222222")
    ax.tick_params(axis="x", pad=18)
    ax.tick_params(axis="y", pad=14)
    plt.setp(ax.get_yticklabels(), rotation=90, va="center")
    for spine in ax.spines.values():
        spine.set_linewidth(FRAME_LW)

    fig.text(1670 / 3500, 1 - 152 / 3203, "DOSE(X,Z) [µSv/h] in 10-cm-thick-layer Y=[0,10] cm",
             color="#ff0000", fontsize=72, ha="center", va="baseline")
    fig.text(1670 / 3500, 1 - 3127 / 3203, "X-axis [cm]", fontsize=60, ha="center", va="center")
    fig.text(100 / 3500, 1 - 1574 / 3203, "Z-axis [cm]", fontsize=60, ha="center", va="center", rotation=90)

    cb = fig.colorbar(mesh, cax=cax)
    cb.set_ticks([10.0 ** e for e in DECADES])
    cax.yaxis.set_minor_locator(LogLocator(base=10, subs=np.arange(2, 10), numticks=40))
    cax.yaxis.set_minor_formatter(NullFormatter())
    cax.tick_params(which="major", direction="in", left=True, right=True, length=32, width=2.4, labelright=False)
    cax.tick_params(which="minor", direction="in", left=True, right=True, length=14, width=2.0)
    cb.outline.set_linewidth(FRAME_LW)
    colorbar_labels(cax)

    fig.savefig("out.png", dpi=100, facecolor="white")
    plt.close(fig)


if __name__ == "__main__":
    main()
